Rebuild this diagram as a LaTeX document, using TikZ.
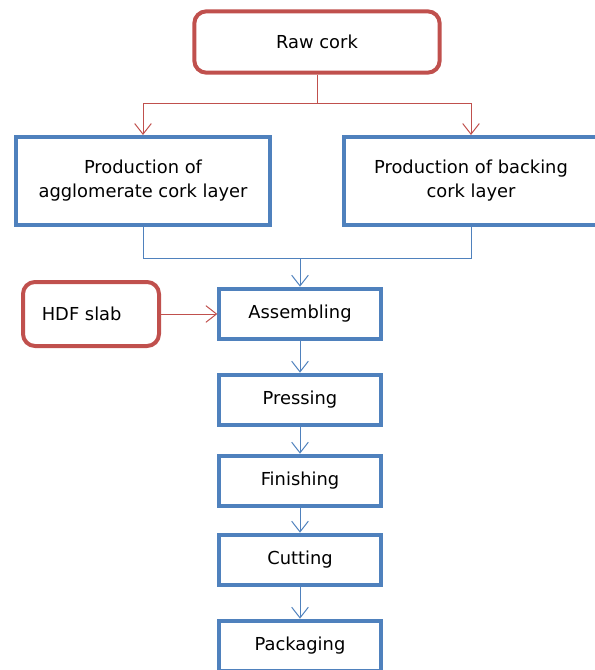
\documentclass[tikz,border=0pt]{standalone}
\usepackage{fontspec}
\setmainfont{DejaVu Sans}
\usetikzlibrary{arrows.meta}

\definecolor{corkred}{RGB}{192,80,77}
\definecolor{corkblue}{RGB}{79,129,189}

\begin{document}
\begin{tikzpicture}[x=0.75pt,y=0.75pt,yscale=-1,xscale=1,
  every node/.style={font=\fontsize{13.4}{18}\selectfont, align=center, inner sep=0.75pt},
  redbox/.style={draw=corkred, line width=3pt, rounded corners=9pt},
  bluebox/.style={draw=corkblue, line width=3pt},
  redline/.style={draw=corkred, line width=0.75pt},
  blueline/.style={draw=corkblue, line width=0.75pt},
  tip/.style={-{Straight Barb[length=8pt,width=12.5pt]}}
  ]
\useasboundingbox (0,0) rectangle (595,670);

%Shape: Rounded Rectangle
\node [redbox, minimum width=184pt, minimum height=46pt] (raw) at (317,42) {Raw cork};
%Shape: Rectangle
\node [bluebox, minimum width=190pt, minimum height=66pt] (agglo) at (143,181) {Production of\\agglomerate cork layer};
%Shape: Rectangle
\node [bluebox, minimum width=190pt, minimum height=66pt] (backing) at (471,181) {Production of backing\\cork layer};
%Shape: Rounded Rectangle
\node [redbox, minimum width=102pt, minimum height=48pt] (hdf) at (91,314) {HDF slab\hspace*{14pt}};

%Shape: Rectangle
\node [bluebox, minimum width=121pt, minimum height=38pt] (assemb) at (300,314) {Assembling};
\node [bluebox, minimum width=121pt, minimum height=38pt] (press) at (300,400) {Pressing};
\node [bluebox, minimum width=121pt, minimum height=38pt] (finish) at (300,481) {Finishing};
\node [bluebox, minimum width=121pt, minimum height=38pt] (cut) at (300,560) {Cutting};
\node [bluebox, minimum width=121pt, minimum height=38pt] (pack) at (300,646) {Packaging};

%Straight Lines
\coordinate (split) at (317,104);
\coordinate (merge) at (300,258);
\draw [redline] (raw) -- (split);
\draw [redline, tip] (split) -| (agglo);
\draw [redline, tip] (split) -| (backing);
\draw [blueline] (agglo) |- (merge);
\draw [blueline] (backing) |- (merge);
\draw [blueline, tip] (merge) -- (assemb);
\draw [redline, tip] (hdf) -- (assemb);
\draw [blueline, tip] (assemb) -- (press);
\draw [blueline, tip] (press) -- (finish);
\draw [blueline, tip] (finish) -- (cut);
\draw [blueline, tip] (cut) -- (pack);

\end{tikzpicture}
\end{document}
